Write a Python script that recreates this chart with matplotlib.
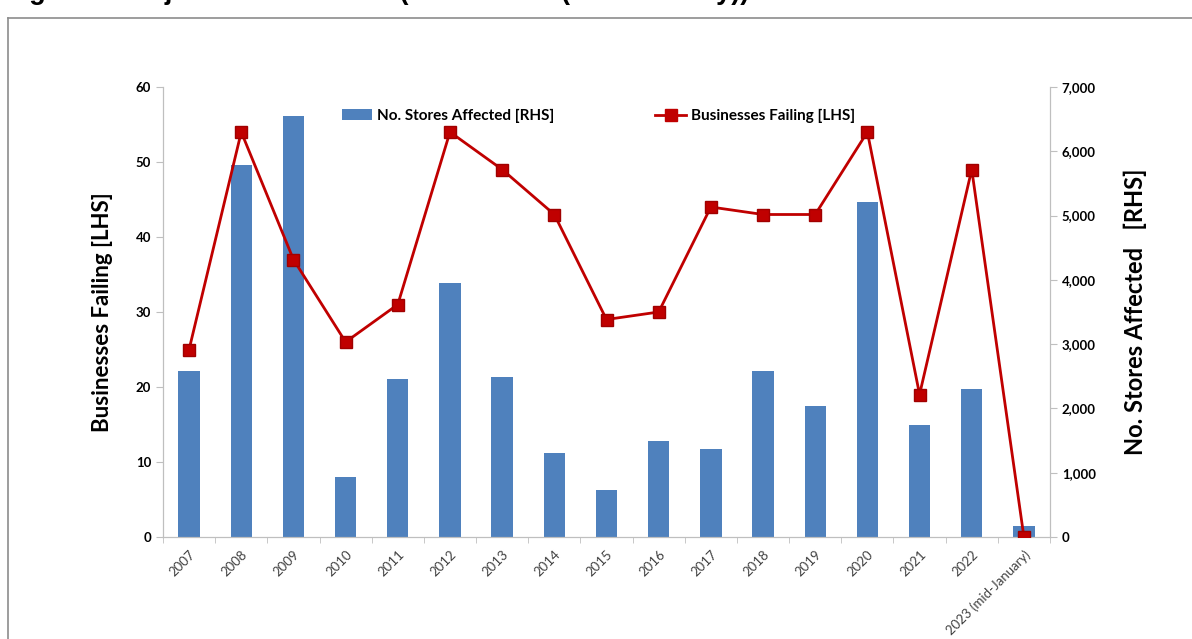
"""
    Major retail failures: stores affected (bars) and businesses failing (line)
"""
import matplotlib.pyplot as plt
from matplotlib.lines import Line2D
from matplotlib.patches import Patch
import numpy as np

years = ['2007', '2008', '2009', '2010', '2011', '2012', '2013', '2014',
         '2015', '2016', '2017', '2018', '2019', '2020', '2021', '2022',
         '2023 (mid-January)']
stores_affected = [2590, 5780, 6545, 935, 2455, 3945, 2490, 1305,
                   725, 1500, 1370, 2580, 2045, 5210, 1750, 2310, 175]
businesses_failing = [25, 54, 37, 26, 31, 54, 49, 43,
                      29, 30, 44, 43, 43, 54, 19, 49, 0]

bar_colour = '#4F81BD'
line_colour = '#C00000'
plt.rcParams['font.family'] = ['Lato', 'DejaVu Sans']

fig = plt.figure(figsize=(11.92, 6.39), dpi=100)

# Outer frame around the chart area
fig.add_artist(Line2D([8 / 1192, 8 / 1192], [0, 1 - 18 / 639],
                      color='#8c8c8c', lw=1.2, transform=fig.transFigure))
fig.add_artist(Line2D([8 / 1192, 1], [1 - 18 / 639, 1 - 18 / 639],
                      color='#8c8c8c', lw=1.2, transform=fig.transFigure))
# Heading sits above the frame, only its lower edge falls inside the page
fig.text(5 / 1192, 1.0 + 1 / 639,
         'Figure 3: Major Retail Failures (2007 - 2023 (mid-January))',
         fontsize=19.5, fontweight='bold', va='baseline', ha='left',
         family=['Liberation Sans', 'DejaVu Sans'])

ax = fig.add_axes([163 / 1192, 1 - 537 / 639, 887 / 1192, 450 / 639])
ax2 = ax.twinx()

x = np.arange(len(years))
ax2.bar(x, stores_affected, width=0.41, color=bar_colour, zorder=2)
ax.plot(x, businesses_failing, color=line_colour, lw=2.0, marker='s',
        markersize=9, markerfacecolor=line_colour,
        markeredgecolor='#a00000', zorder=3)

# Keep the line on top of the bars
ax.set_zorder(ax2.get_zorder() + 1)
ax.patch.set_visible(False)

ax.set_xlim(-0.5, len(years) - 0.5)
ax.set_ylim(0, 60)
ax2.set_ylim(0, 7000)
ax.set_yticks(range(0, 61, 10))
ax2.set_yticks(range(0, 7001, 1000))
ax2.set_yticklabels([f'{v:,}' for v in range(0, 7001, 1000)])

ax.set_xticks(x)
ax.set_xticklabels(years, rotation=45, ha='right', rotation_mode='anchor',
                   fontsize=9.5, color='#404040')
ax.set_xticks(np.arange(-0.5, len(years), 1), minor=True)
ax.tick_params(axis='x', which='major', length=0, pad=8)
ax.tick_params(axis='x', which='minor', length=4, color='#bfbfbf')

for a in (ax, ax2):
    a.spines['top'].set_visible(False)
    for side in ('left', 'right', 'bottom'):
        a.spines[side].set_color('#bfbfbf')
    a.tick_params(axis='y', length=5, color='#bfbfbf', labelsize=9.5)
    for lbl in a.get_yticklabels():
        lbl.set_fontweight('bold')

ax.set_ylabel('Businesses Failing [LHS]', fontsize=16, fontweight='bold',
              labelpad=16)
ax2.set_ylabel('No. Stores Affected   [RHS]', fontsize=17, fontweight='bold',
               labelpad=20)

handles = [Patch(facecolor=bar_colour, label='No. Stores Affected [RHS]'),
           Line2D([0], [0], color=line_colour, lw=2.0, marker='s',
                  markersize=8, label='Businesses Failing [LHS]')]
ax.legend(handles=handles, ncol=2, frameon=False, loc='center',
          bbox_to_anchor=(0.491, 0.936), columnspacing=6.6, handlelength=2.0,
          handletextpad=0.35, prop={'size': 11, 'weight': 'bold'})

fig.savefig('out.png', dpi=100)
